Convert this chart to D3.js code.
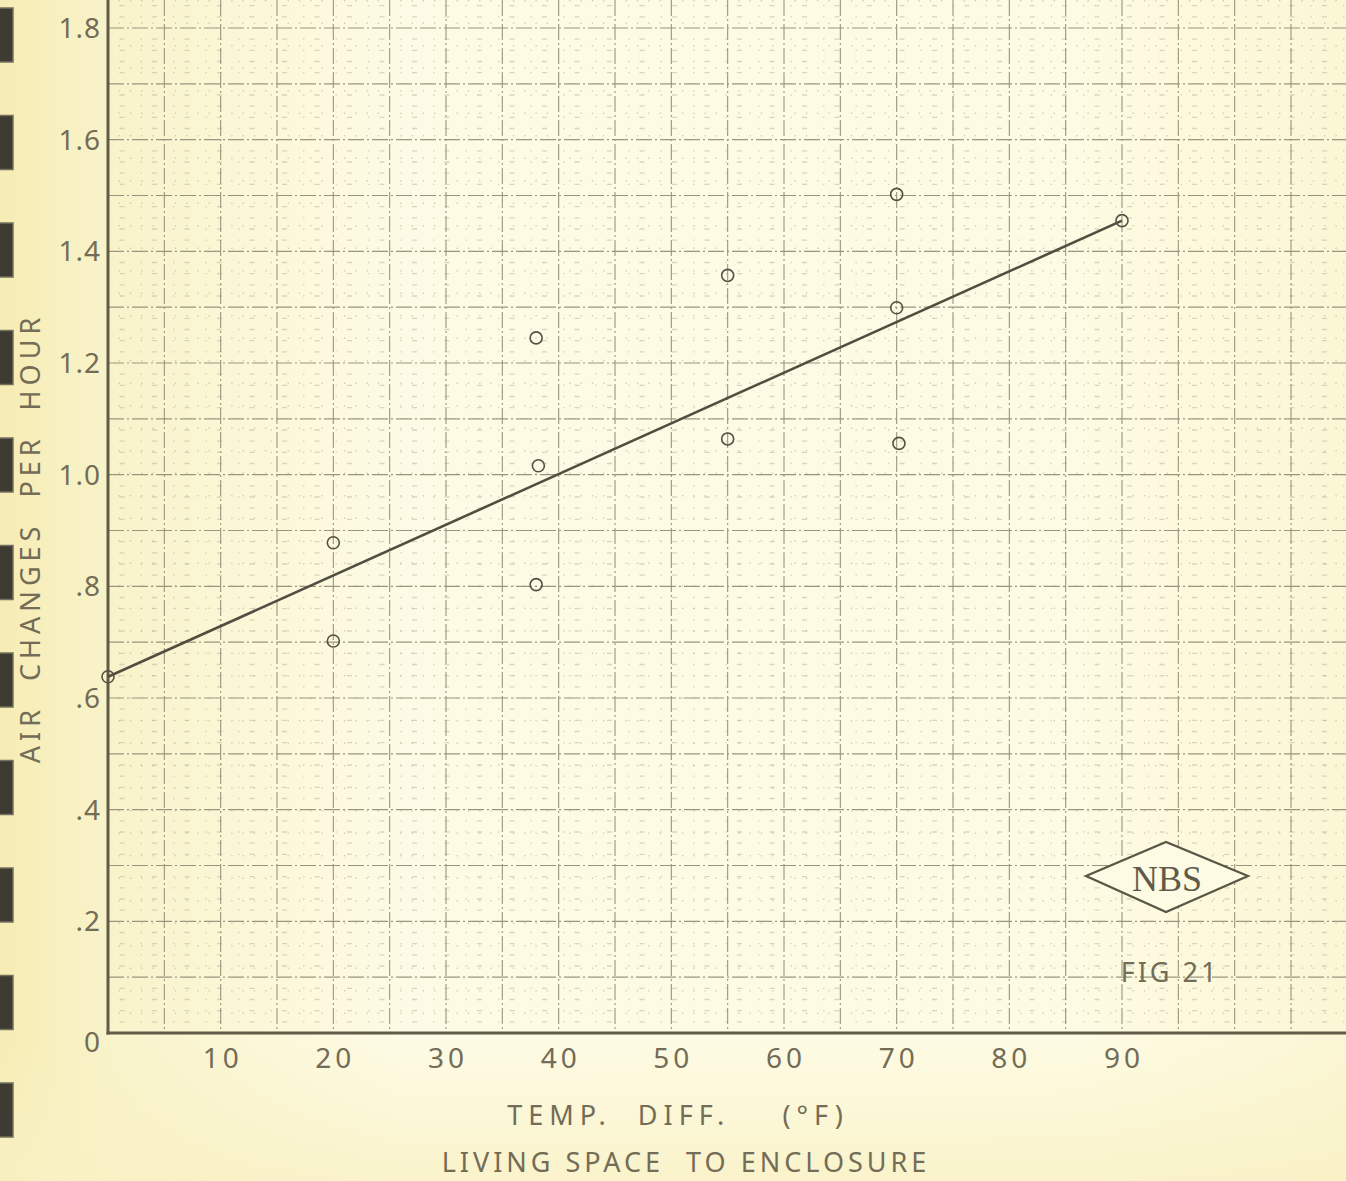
<!DOCTYPE html>
<html>
<head>
<meta charset="utf-8">
<script src="https://cdn.jsdelivr.net/npm/d3@7"></script>
<style>
	html, body { margin: 0; padding: 0; background: #fbf8dc; }
	svg { display: block; }
	text { font-family: "Noto Sans", "Open Sans", sans-serif; fill: #736c57; }
</style>
</head>
<body>
<svg id="chart"></svg>
<script>
const tempDiff = [0, 20, 20, 38, 38.2, 38, 55, 55, 70, 70, 70.2, 90]
const airChanges = [0.638, 0.878, 0.702, 1.245, 1.016, 0.803, 1.357, 1.064, 1.502, 1.299, 1.056, 1.455]

// fitted line end points
const fitX = [0, 90]
const fitY = [0.638, 1.455]

const xTicks = [10, 20, 30, 40, 50, 60, 70, 80, 90]
const yTicks = [0.2, 0.4, 0.6, 0.8, 1.0, 1.2, 1.4, 1.6, 1.8]
const yTickLabels = [".2", ".4", ".6", ".8", "1.0", "1.2", "1.4", "1.6", "1.8"]

const width = 1346, height = 1181

const svg = d3.select("#chart")
	.attr("width", width)
	.attr("height", height)

// paper
const defs = svg.append("defs")
const grad = defs.append("linearGradient").attr("id", "paper")
grad.append("stop").attr("offset", "0%").attr("stop-color", "#f6ecb4")
grad.append("stop").attr("offset", "8%").attr("stop-color", "#f9f3ca")
grad.append("stop").attr("offset", "30%").attr("stop-color", "#fdfbe5")
grad.append("stop").attr("offset", "80%").attr("stop-color", "#fdfbe3")
grad.append("stop").attr("offset", "100%").attr("stop-color", "#fbf6d4")
svg.append("rect").attr("width", width).attr("height", height).attr("fill", "url(#paper)")

const vgrad = defs.append("linearGradient").attr("id", "paperBottom")
	.attr("x1", 0).attr("x2", 0).attr("y1", 0).attr("y2", 1)
vgrad.append("stop").attr("offset", "0%").attr("stop-color", "#f9f1c4").attr("stop-opacity", 0)
vgrad.append("stop").attr("offset", "100%").attr("stop-color", "#f9f1c4").attr("stop-opacity", 0.8)
svg.append("rect").attr("y", 1040).attr("width", width).attr("height", height - 1040).attr("fill", "url(#paperBottom)")

const x = d3.scaleLinear().domain([0, 90]).range([108, 1122])
const y = d3.scaleLinear().domain([0, 1.8]).range([1033, 28])

const left = x(0), bottom = y(0)
defs.append("clipPath").attr("id", "plot")
	.append("rect").attr("x", left).attr("y", 0).attr("width", width - left).attr("height", bottom)

const grid = svg.append("g").attr("clip-path", "url(#plot)")
const xMax = x.invert(width), yMax = y.invert(0)

// fine grid (1 deg / .02), barely printed
grid.append("g")
	.selectAll("line")
	.data(d3.range(1, xMax, 1).filter(d => d % 5 !== 0))
	.join("line")
	.attr("x1", d => x(d)).attr("x2", d => x(d))
	.attr("y1", 0).attr("y2", bottom)
	.attr("stroke", "#aaa58c").attr("stroke-width", 1.3)
	.attr("stroke-dasharray", "1.5,21").attr("opacity", 0.5)

grid.append("g")
	.selectAll("line")
	.data(d3.range(1, Math.round(yMax / 0.02)).filter(i => i % 5 !== 0).map(i => i * 0.02))
	.join("line")
	.attr("x1", left).attr("x2", width)
	.attr("y1", d => y(d)).attr("y2", d => y(d))
	.attr("stroke", "#aaa58c").attr("stroke-width", 1.3)
	.attr("stroke-dasharray", "1.5,10,5,16").attr("opacity", 0.42)

// main grid (5 deg / .1)
grid.append("g")
	.selectAll("line")
	.data(d3.range(5, xMax, 5))
	.join("line")
	.attr("x1", d => x(d)).attr("x2", d => x(d))
	.attr("y1", 0).attr("y2", bottom)
	.attr("stroke", "#9a957e").attr("stroke-width", 1.1)
	.attr("stroke-dasharray", "16,3,2,3")

grid.append("g")
	.selectAll("line")
	.data(d3.range(1, Math.ceil(yMax * 10)).map(i => i / 10))
	.join("line")
	.attr("x1", left).attr("x2", width)
	.attr("y1", d => y(d)).attr("y2", d => y(d))
	.attr("stroke", "#9a957e").attr("stroke-width", 1.1)
	.attr("stroke-dasharray", "16,3,2,3")

// axes frame
svg.append("line")
	.attr("x1", left).attr("x2", left).attr("y1", 0).attr("y2", bottom + 1.5)
	.attr("stroke", "#625b48").attr("stroke-width", 3)
svg.append("line")
	.attr("x1", left - 1.5).attr("x2", width).attr("y1", bottom).attr("y2", bottom)
	.attr("stroke", "#625b48").attr("stroke-width", 3)

// tick labels
svg.append("g")
	.selectAll("text")
	.data(xTicks)
	.join("text")
	.attr("x", d => x(d) + 2)
	.attr("y", bottom + 35)
	.attr("text-anchor", "middle")
	.attr("font-size", 28)
	.attr("letter-spacing", 4)
	.text(d => d)

svg.append("g")
	.selectAll("text")
	.data(yTicks)
	.join("text")
	.attr("x", left - 7)
	.attr("y", d => y(d) + 10)
	.attr("text-anchor", "end")
	.attr("font-size", 28)
	.attr("letter-spacing", 1)
	.text((d, i) => yTickLabels[i])

svg.append("text")
	.attr("x", 92).attr("y", bottom + 19)
	.attr("text-anchor", "middle")
	.attr("font-size", 28)
	.text("0")

// axis titles
svg.append("text")
	.attr("x", 678).attr("y", 1125)
	.attr("text-anchor", "middle")
	.attr("font-size", 27)
	.attr("letter-spacing", 6)
	.attr("xml:space", "preserve")
	.text("TEMP.  DIFF.    (°F)")

svg.append("text")
	.attr("x", 686).attr("y", 1172)
	.attr("text-anchor", "middle")
	.attr("font-size", 27)
	.attr("letter-spacing", 4)
	.attr("xml:space", "preserve")
	.text("LIVING SPACE  TO ENCLOSURE")

svg.append("text")
	.attr("transform", "translate(40,538) rotate(-90)")
	.attr("text-anchor", "middle")
	.attr("font-size", 27)
	.attr("letter-spacing", 5)
	.attr("xml:space", "preserve")
	.text("AIR  CHANGES  PER  HOUR")

// fitted line
const line = d3.line().x(d => x(d[0])).y(d => y(d[1]))
svg.append("path")
	.datum(d3.zip(fitX, fitY))
	.attr("d", line)
	.attr("fill", "none")
	.attr("stroke", "#514d40")
	.attr("stroke-width", 2.6)

// observations
svg.append("g")
	.selectAll("circle")
	.data(d3.zip(tempDiff, airChanges))
	.join("circle")
	.attr("cx", d => x(d[0]))
	.attr("cy", d => y(d[1]))
	.attr("r", 6)
	.attr("fill", "none")
	.attr("stroke", "#555144")
	.attr("stroke-width", 1.6)

// NBS stamp
const stamp = svg.append("g")
stamp.append("polygon")
	.attr("points", "1086,876 1166,842 1248,876 1166,912")
	.attr("fill", "#fdfbe4")
	.attr("stroke", "#5a5545")
	.attr("stroke-width", 2.2)
stamp.append("text")
	.attr("x", 1167).attr("y", 891)
	.attr("text-anchor", "middle")
	.attr("font-size", 36)
	.style("font-family", "'Liberation Serif', 'DejaVu Serif', serif")
	.style("fill", "#5f5a49")
	.text("NBS")
stamp.append("text")
	.attr("x", 1170).attr("y", 982)
	.attr("text-anchor", "middle")
	.attr("font-size", 27)
	.attr("letter-spacing", 3)
	.text("FIG 21")

// binder holes on the left edge
svg.append("g")
	.selectAll("rect")
	.data(d3.range(11))
	.join("rect")
	.attr("x", -1)
	.attr("y", i => 8 + i * 107.5)
	.attr("width", 14)
	.attr("height", 54)
	.attr("fill", "#3d3b32")
	.attr("stroke", "#76715e")
	.attr("stroke-width", 1.5)
</script>
</body>
</html>
